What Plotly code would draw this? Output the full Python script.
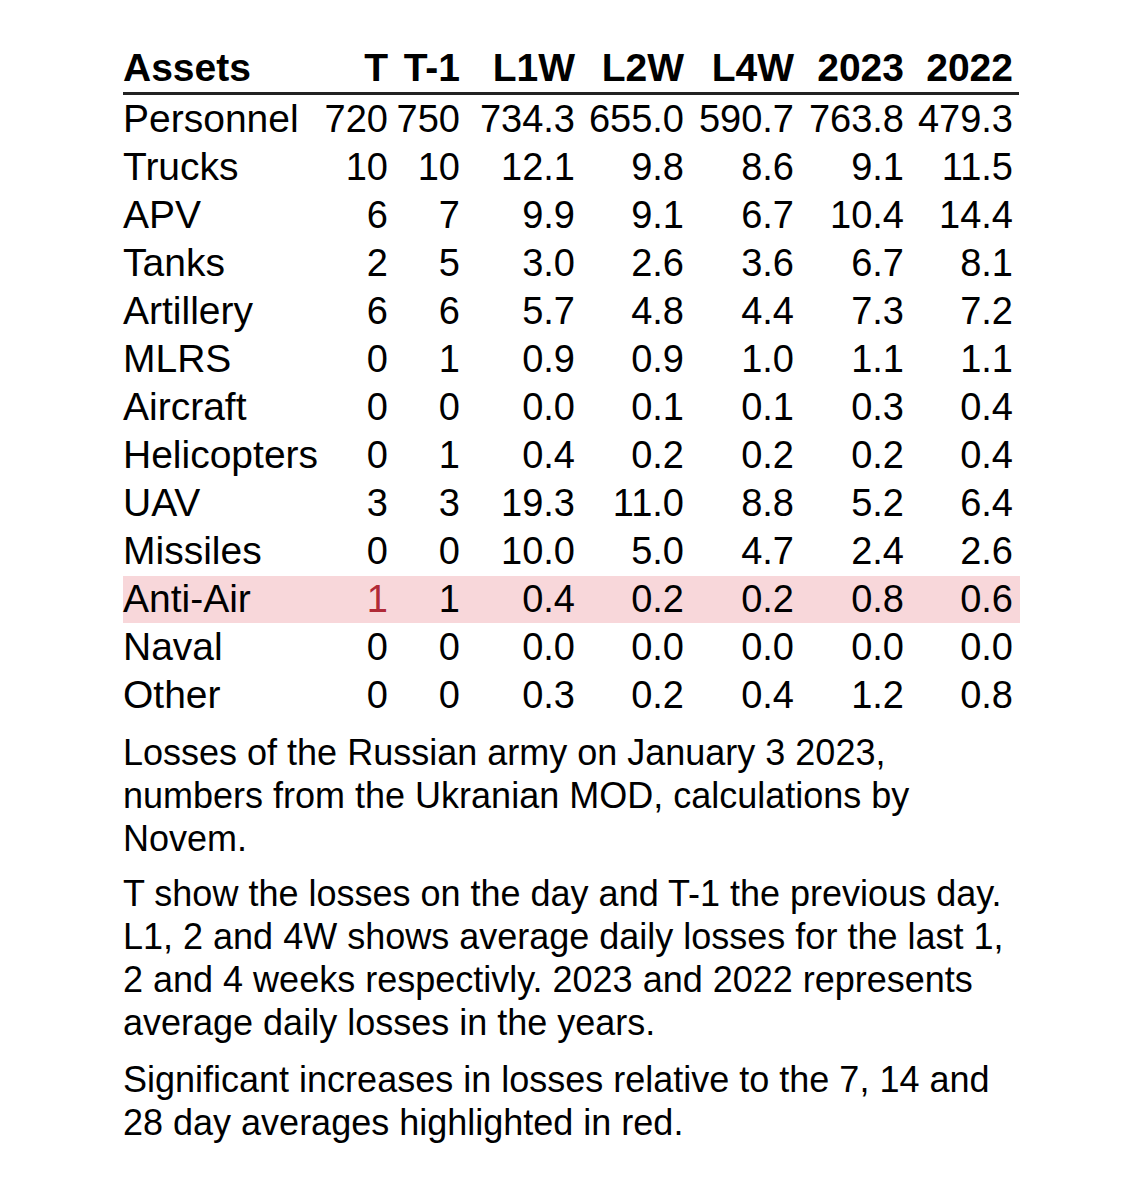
import plotly.graph_objects as go

# Table contents
headers = ['Assets', 'T', 'T-1', 'L1W', 'L2W', 'L4W', '2023', '2022']
assets = ['Personnel', 'Trucks', 'APV', 'Tanks', 'Artillery', 'MLRS', 'Aircraft',
          'Helicopters', 'UAV', 'Missiles', 'Anti-Air', 'Naval', 'Other']
t_day = [720, 10, 6, 2, 6, 0, 0, 0, 3, 0, 1, 0, 0]
t_prev = [750, 10, 7, 5, 6, 1, 0, 1, 3, 0, 1, 0, 0]
l1w = [734.3, 12.1, 9.9, 3.0, 5.7, 0.9, 0.0, 0.4, 19.3, 10.0, 0.4, 0.0, 0.3]
l2w = [655.0, 9.8, 9.1, 2.6, 4.8, 0.9, 0.1, 0.2, 11.0, 5.0, 0.2, 0.0, 0.2]
l4w = [590.7, 8.6, 6.7, 3.6, 4.4, 1.0, 0.1, 0.2, 8.8, 4.7, 0.2, 0.0, 0.4]
y2023 = [763.8, 9.1, 10.4, 6.7, 7.3, 1.1, 0.3, 0.2, 5.2, 2.4, 0.8, 0.0, 1.2]
y2022 = [479.3, 11.5, 14.4, 8.1, 7.2, 1.1, 0.4, 0.4, 6.4, 2.6, 0.6, 0.0, 0.8]

# (asset, column) cells flagged as significant increases
highlighted = [('Anti-Air', 'T')]

# Footnote paragraphs, one list of lines each
notes = [
    ['Losses of the Russian army on January 3 2023,',
     'numbers from the Ukranian MOD, calculations by',
     'Novem.'],
    ['T show the losses on the day and T-1 the previous day.',
     'L1, 2 and 4W shows average daily losses for the last 1,',
     '2 and 4 weeks respectivly. 2023 and 2022 represents',
     'average daily losses in the years.'],
    ['Significant increases in losses relative to the 7, 14 and',
     '28 day averages highlighted in red.'],
]


def main():
    W, H = 1140, 1182
    pad = 8            # body margin of the html page
    font = 'Liberation Sans, Arial, sans-serif'
    red = '#b02a37'
    pink = '#f8d7da'
    size_lab = 39      # asset labels and header
    size_num = 38      # numbers
    size_note = 36

    # Layout of the table (axes are set up in page pixel units)
    left = 123
    right = 1020
    col_right = [388, 460, 575, 684, 794, 904, 1013]   # right edge of each number column
    header_y = 71
    row0_y = 122
    row_h = 48
    row_y = [row0_y + i * row_h for i in range(len(assets))]

    columns = [t_day, t_prev, l1w, l2w, l4w, y2023, y2022]
    formats = ['{:.0f}', '{:.0f}', '{:.1f}', '{:.1f}', '{:.1f}', '{:.1f}', '{:.1f}']

    fig = go.Figure()

    # Asset labels
    fig.add_trace(go.Scatter(
        x=[left] * len(assets), y=row_y, text=assets, mode='text',
        textposition='middle right', textfont=dict(size=size_lab, color='black', family=font),
        hoverinfo='skip', showlegend=False))

    # Number columns
    for j, vals in enumerate(columns):
        name = headers[j + 1]
        colors = [red if (a, name) in highlighted else 'black' for a in assets]
        fig.add_trace(go.Scatter(
            x=[col_right[j]] * len(vals), y=row_y,
            text=[formats[j].format(v) for v in vals], mode='text',
            textposition='middle left', textfont=dict(size=size_num, color=colors, family=font),
            hoverinfo='skip', showlegend=False))

    # Header row
    fig.add_trace(go.Scatter(
        x=[left], y=[header_y], text=[headers[0]], mode='text',
        textposition='middle right',
        textfont=dict(size=size_lab, color='black', family=font, weight='bold'),
        hoverinfo='skip', showlegend=False))
    fig.add_trace(go.Scatter(
        x=col_right, y=[header_y] * len(col_right), text=headers[1:], mode='text',
        textposition='middle left',
        textfont=dict(size=size_lab, color='black', family=font, weight='bold'),
        hoverinfo='skip', showlegend=False))

    # Header rule
    fig.add_shape(type='line', x0=left, x1=right - 1, y0=93.5, y1=93.5,
                  line=dict(color='#222222', width=3), layer='below')

    # Row highlight for rows with flagged cells
    for a, _ in highlighted:
        yc = row_y[assets.index(a)] - 2.5
        fig.add_shape(type='rect', x0=left, x1=right, y0=yc - 23.5, y1=yc + 23.5,
                      fillcolor=pink, line=dict(width=0), layer='below')

    # Footnotes, one annotation per line
    para_y = [752, 893, 1079]
    line_h = 43.3
    for lines, y0 in zip(notes, para_y):
        for k, txt in enumerate(lines):
            fig.add_annotation(x=left, y=y0 + k * line_h, xref='x', yref='y', text=txt,
                               showarrow=False, xanchor='left', yanchor='middle',
                               borderpad=0, borderwidth=0,
                               font=dict(size=size_note, color='black', family=font))

    # The page has an 8px body margin, so shift the ranges to keep page pixel units
    fig.update_xaxes(range=[pad, W - pad], visible=False, fixedrange=True)
    fig.update_yaxes(range=[H - pad, pad], visible=False, fixedrange=True)
    fig.update_layout(
        width=W - 2 * pad, height=H - 2 * pad,
        margin=dict(l=0, r=0, t=0, b=0),
        plot_bgcolor='white', paper_bgcolor='white',
    )

    fig.write_html('out.html')


if __name__ == '__main__':
    main()
